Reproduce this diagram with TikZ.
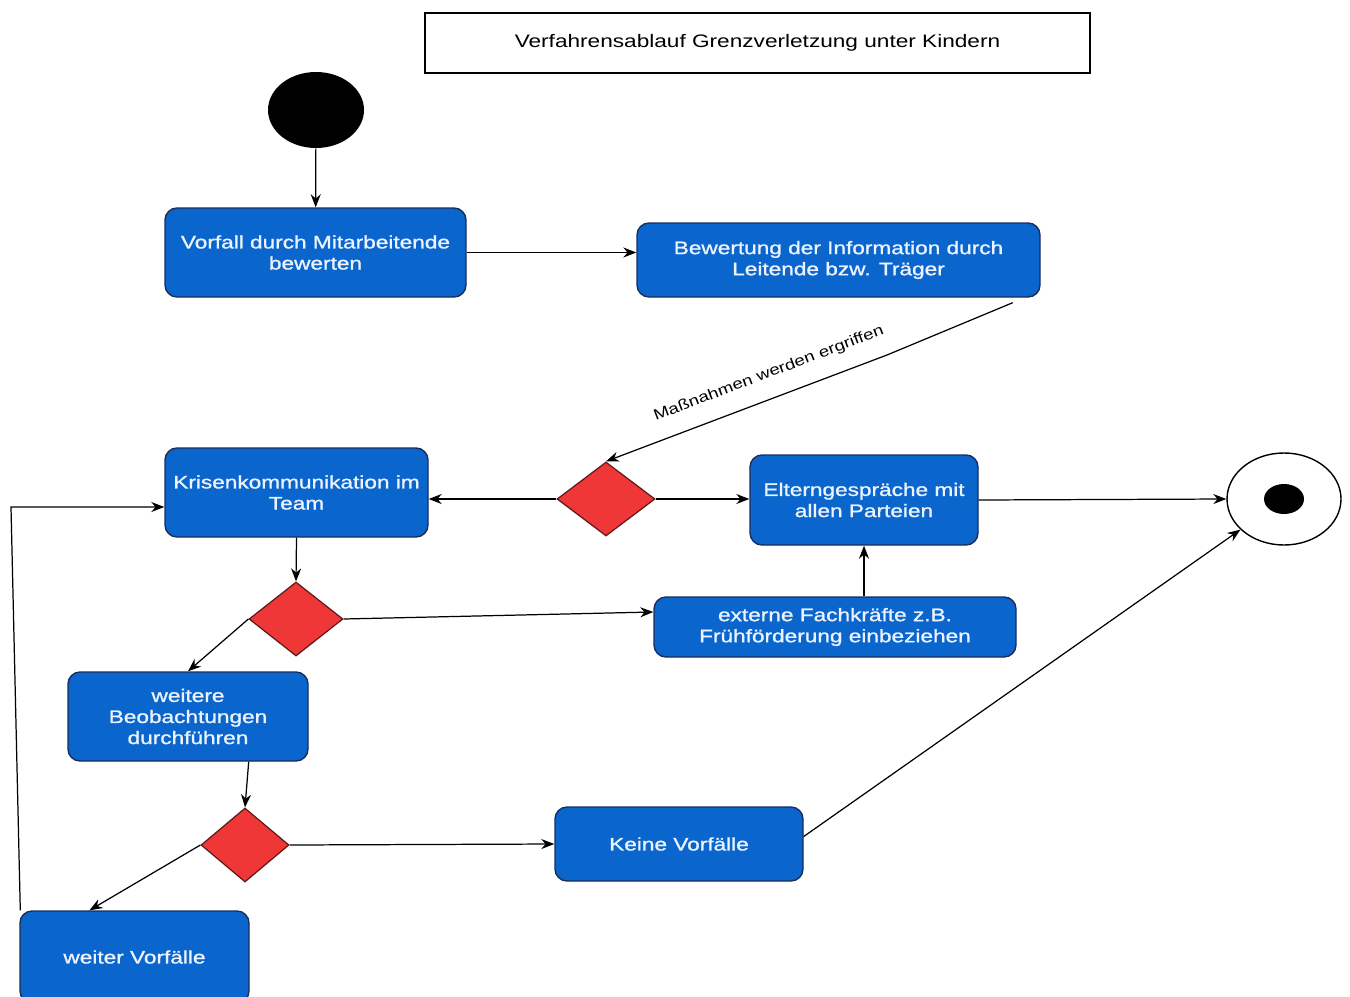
\documentclass[tikz,border=0pt]{standalone}
\usepackage{fontspec}
\setmainfont[FakeStretch=1.25]{Liberation Sans}
\newfontfamily\boxfont[FakeStretch=1.25,FakeBold=1.2]{Liberation Sans}
\usetikzlibrary{arrows.meta,shapes.geometric}
\definecolor{actblue}{RGB}{10,102,204}
\definecolor{actborder}{RGB}{25,45,95}
\definecolor{acttext}{RGB}{236,243,255}
\definecolor{decred}{RGB}{240,55,55}
\definecolor{decborder}{RGB}{95,25,25}

\begin{document}
\begin{tikzpicture}[>={Stealth[length=2.6mm,width=2mm]},
  action/.style={rectangle,rounded corners=0.24cm,draw=actborder,line width=0.8pt,fill=actblue,text=acttext,align=center,font=\boxfont\fontsize{10.3}{12}\selectfont,inner sep=2pt},
  decision/.style={diamond,draw=decborder,line width=0.7pt,fill=decred,inner sep=0pt},
  flow/.style={->,line width=0.7pt}]
\useasboundingbox (0,0) rectangle (27,-19.92);
\clip (0,0) rectangle (27,-19.92);
\node[draw,line width=0.8pt,minimum width=13.3cm,minimum height=1.2cm,font=\fontsize{10.3}{12}\selectfont] (titel) at (15.15,-0.86) {Verfahrensablauf Grenzverletzung unter Kindern};
\node[ellipse,fill=black,minimum width=1.92cm,minimum height=1.52cm,inner sep=0pt] (start) at (6.32,-2.2) {};
\node[action,minimum width=6.02cm,minimum height=1.78cm] (vorfall) at (6.31,-5.05) {Vorfall durch Mitarbeitende\\bewerten};
\node[action,minimum width=8.06cm,minimum height=1.48cm] (bewertung) at (16.77,-5.2) {Bewertung der Information durch\\Leitende bzw. Träger};
\node[decision,minimum width=1.96cm,minimum height=1.48cm] (raute1) at (12.12,-9.98) {};
\node[action,minimum width=5.26cm,minimum height=1.78cm] (krise) at (5.93,-9.85) {Krisenkommunikation im\\Team};
\node[action,minimum width=4.56cm,minimum height=1.8cm] (eltern) at (17.28,-10.0) {Elterngespräche mit\\allen Parteien};
\node[ellipse,draw,line width=0.8pt,fill=white,minimum width=2.28cm,minimum height=1.84cm,inner sep=0pt] (ende) at (25.68,-9.98) {};
\node[ellipse,fill=black,minimum width=0.8cm,minimum height=0.6cm,inner sep=0pt] (endpunkt) at (ende) {};
\node[decision,minimum width=1.88cm,minimum height=1.48cm] (raute2) at (5.92,-12.38) {};
\node[action,minimum width=7.24cm,minimum height=1.2cm] (extern) at (16.7,-12.54) {externe Fachkräfte z.B.\\Frühförderung einbeziehen};
\node[action,minimum width=4.8cm,minimum height=1.78cm] (beobachtung) at (3.76,-14.33) {weitere\\Beobachtungen\\durchführen};
\node[decision,minimum width=1.76cm,minimum height=1.48cm] (raute3) at (4.9,-16.9) {};
\node[action,minimum width=4.96cm,minimum height=1.48cm] (keine) at (13.58,-16.88) {Keine Vorfälle};
\node[action,minimum width=4.58cm,minimum height=1.84cm] (weiter) at (2.69,-19.14) {weiter Vorfälle};
\coordinate (knick) at (17.74,-7.1);
\coordinate (ruecklauf) at (0.22,-10.14);
\draw[flow] (start) -- (vorfall);
\draw[flow] (vorfall) -- (vorfall -| bewertung.west);
\draw[flow] ([xshift=-0.56cm,yshift=-0.1cm]bewertung.south east) -- (knick) -- (raute1.north)
  node[pos=0.39,sloped,above=0.3cm,inner sep=1pt,font=\fontsize{8.5}{10}\selectfont] {Maßnahmen werden ergriffen};
\draw[flow] (raute1.west) -- (raute1.west -| krise.east);
\draw[flow] (raute1.east) -- (raute1.east -| eltern.west);
\draw[flow] (eltern.east) -- (ende.west);
\draw[flow] (krise.south) -- (raute2.north);
\draw[flow] (raute2.east) -- ([yshift=0.3cm]extern.west);
\draw[flow] (extern.north -| eltern.south) -- (eltern.south);
\draw[flow] (raute2.west) -- (beobachtung.north);
\draw[flow] ([xshift=-1.2cm]beobachtung.south east) -- (raute3.north);
\draw[flow] (raute3.east) -- (keine.west);
\draw[flow] ([yshift=0.15cm]keine.east) -- (ende);
\draw[flow] (raute3.west) -- ([xshift=-0.9cm]weiter.north);
\draw[flow] ([xshift=0.02cm]weiter.north west) -- (ruecklauf) -- (ruecklauf -| krise.west);
\end{tikzpicture}
\end{document}
